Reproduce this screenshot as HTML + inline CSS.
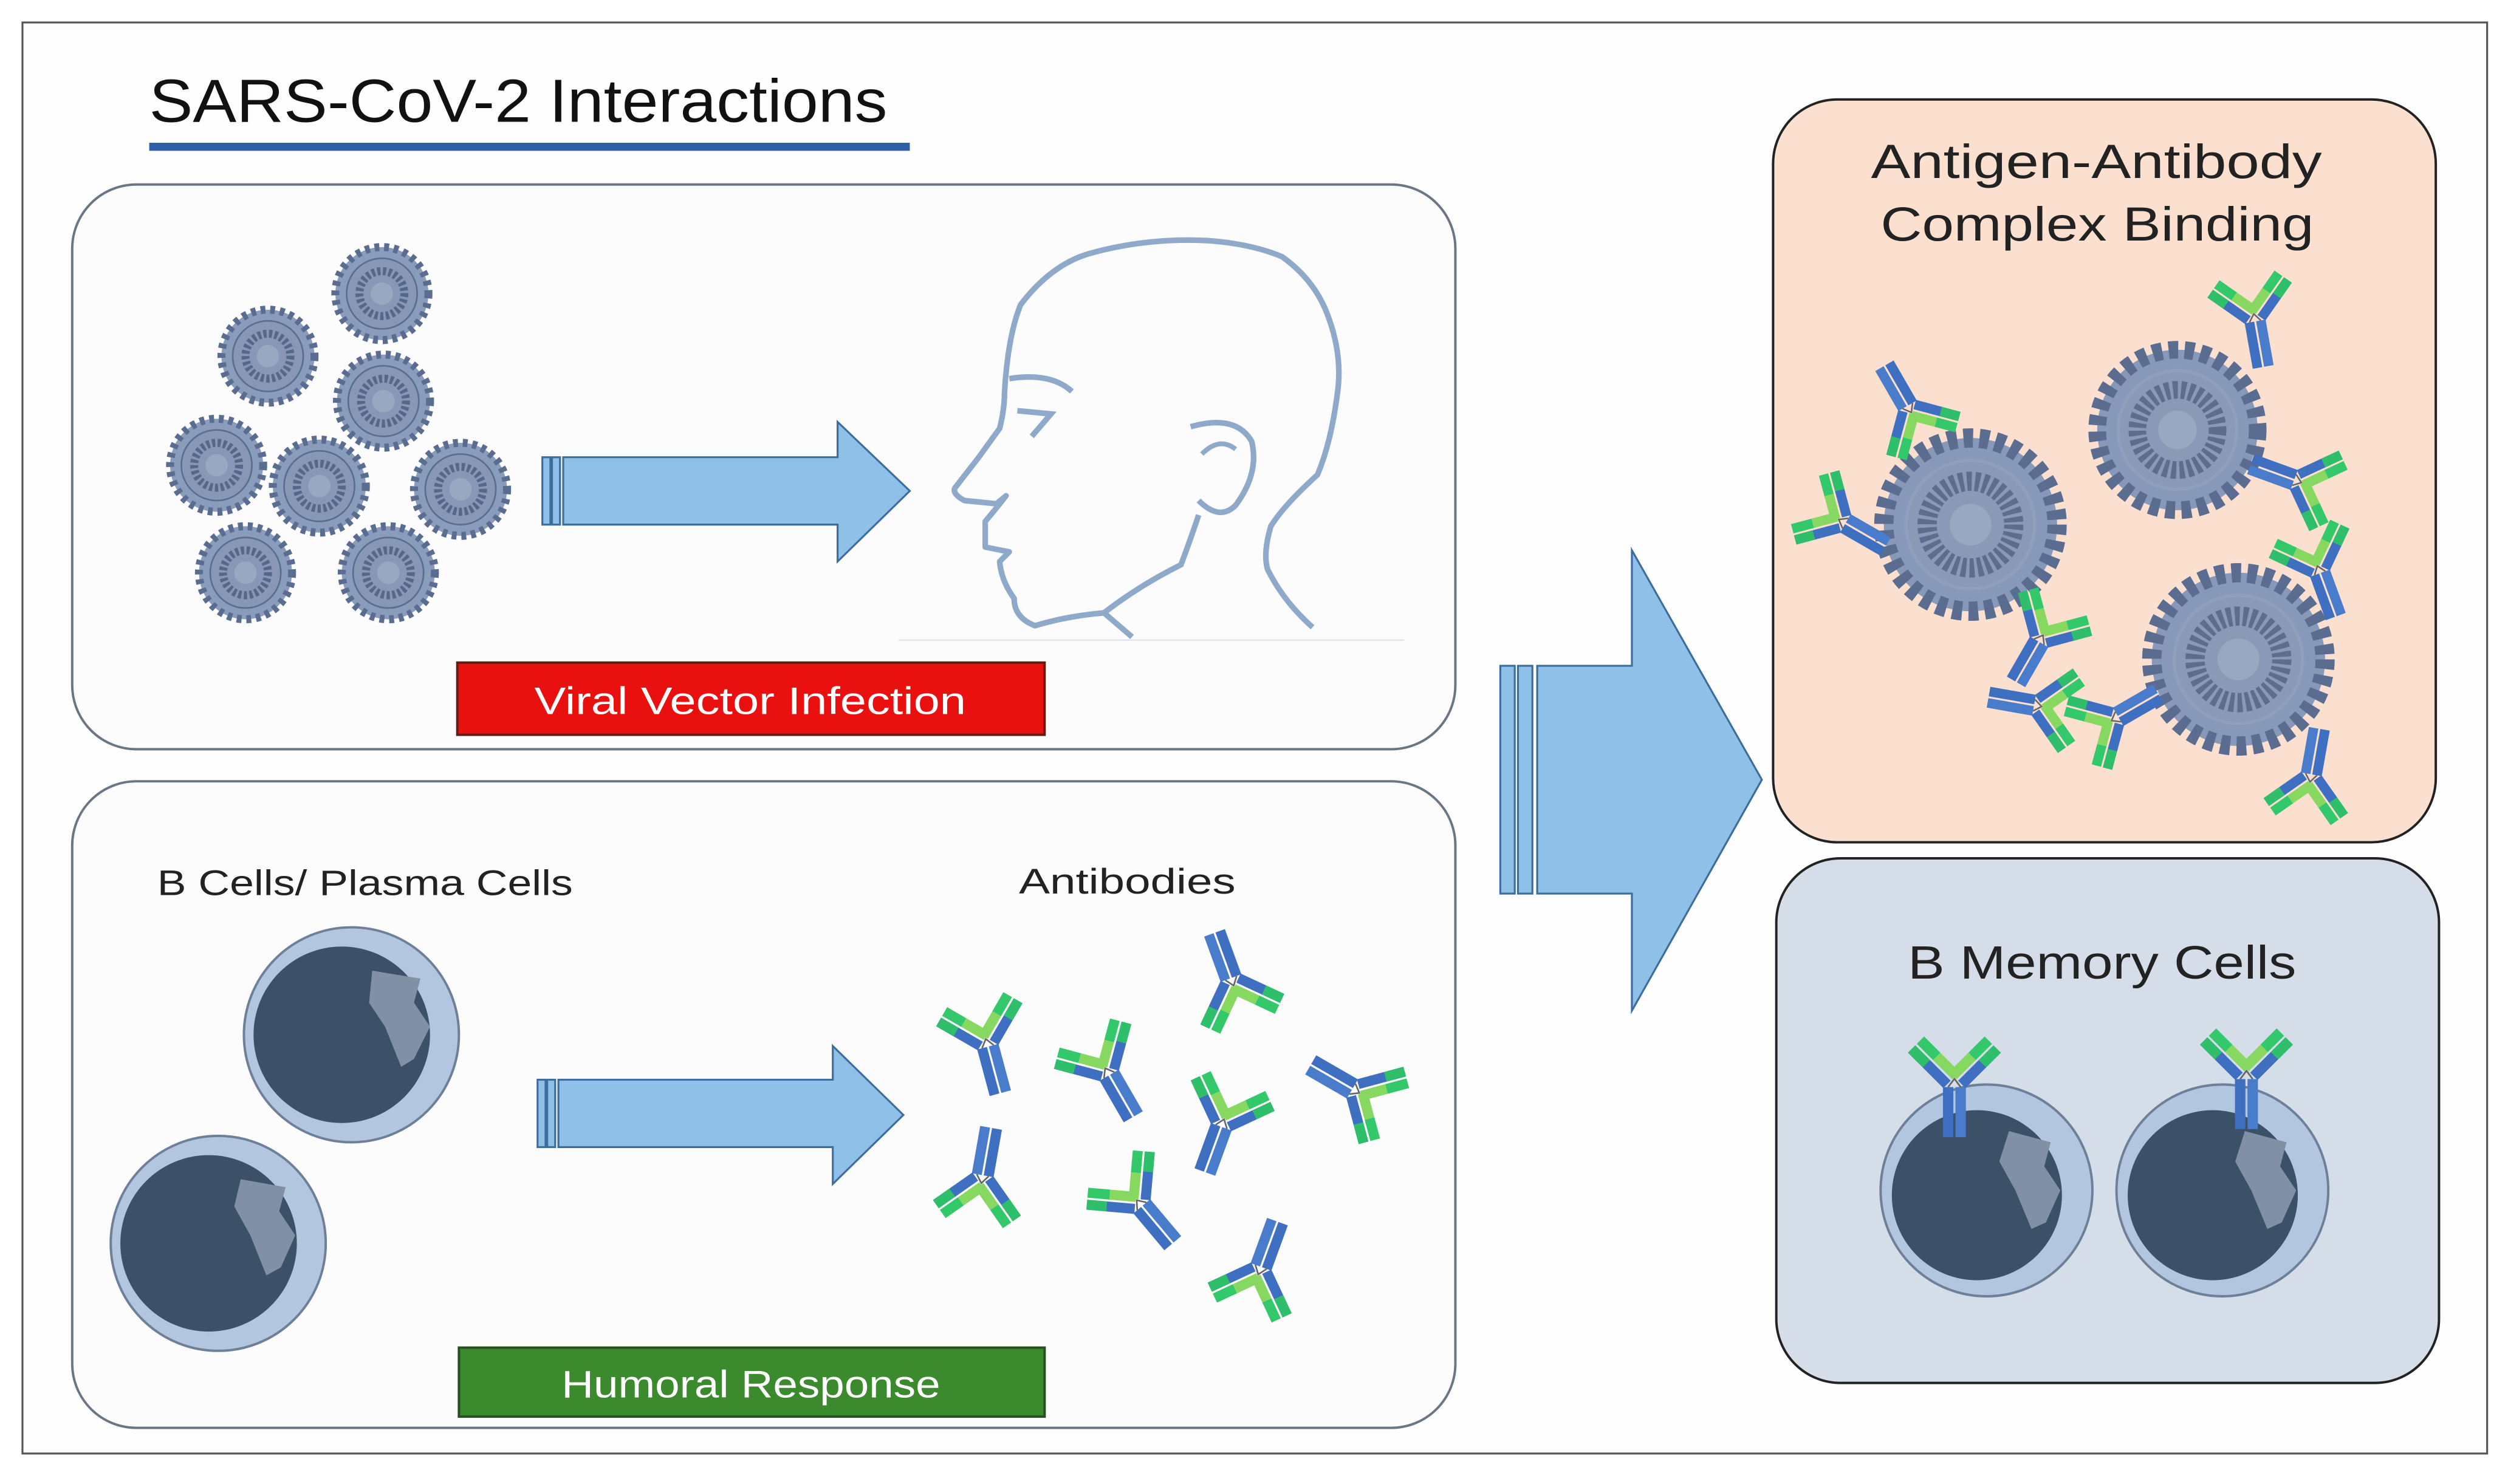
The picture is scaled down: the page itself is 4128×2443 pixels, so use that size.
<!DOCTYPE html>
<html><head><meta charset="utf-8"><style>
html,body{margin:0;padding:0;background:#fff;}
svg{display:block;}
text{font-family:"Liberation Sans",sans-serif;}
</style></head><body>
<svg width="4128" height="2443" viewBox="0 0 1563 925" preserveAspectRatio="none" xmlns="http://www.w3.org/2000/svg">
<defs>
<g id="ab">
 <rect x="-5.5" y="2" width="5" height="24" fill="#3f6fc0"/><rect x="0.5" y="2" width="5" height="24" fill="#4a7ccc"/>
 <g transform="rotate(-45)"><rect x="-5.5" y="-26" width="5" height="24" fill="#3f6fc0"/><rect x="0.5" y="-26" width="5" height="11" fill="#33c86a"/><rect x="0.5" y="-15" width="5" height="13" fill="#86d860"/><rect x="-5.5" y="-26" width="5" height="10" fill="#2fbf6a"/></g>
 <g transform="rotate(45)"><rect x="0.5" y="-26" width="5" height="24" fill="#3f6fc0"/><rect x="-5.5" y="-26" width="5" height="11" fill="#33c86a"/><rect x="-5.5" y="-15" width="5" height="13" fill="#86d860"/><rect x="0.5" y="-26" width="5" height="10" fill="#2fbf6a"/></g>
 <path d="M-3 2 L0 -2 L3 2" stroke="#666" stroke-width="0.8" fill="none"/>
</g>
</defs>
<rect width="1563" height="925" fill="#fff"/>
<rect x="14" y="14" width="1536" height="892" fill="#fefefe" stroke="#555" stroke-width="1.2"/>
<text x="93" y="76" font-size="38" fill="#111" textLength="460" lengthAdjust="spacingAndGlyphs">SARS-CoV-2 Interactions</text>
<rect x="93" y="89" width="474" height="5" fill="#2e5fa8"/>

<rect x="45" y="115" width="862" height="352" rx="40" fill="#fcfcfd" stroke="#6b7685" stroke-width="1.5"/>
<rect x="45" y="487" width="862" height="403" rx="40" fill="#fcfcfd" stroke="#6b7685" stroke-width="1.5"/>
<rect x="1105" y="62" width="413" height="463" rx="40" fill="#fbe0d0" stroke="#222" stroke-width="1.5"/>
<rect x="1107" y="535" width="413" height="327" rx="40" fill="#d4dde8" stroke="#222" stroke-width="1.5"/>

<g>
 <g transform="translate(238,183)"><circle r="29" fill="#8a9cbb" stroke="#5a6d90" stroke-width="5" stroke-dasharray="3 3"/><circle r="22" fill="#8797b5" stroke="#5a6d90" stroke-width="1"/><circle r="14" fill="none" stroke="#56688a" stroke-width="5" stroke-dasharray="2 1.5"/><circle r="7" fill="#9aa7c0"/></g>
 <g transform="translate(167,222)"><circle r="29" fill="#8a9cbb" stroke="#5a6d90" stroke-width="5" stroke-dasharray="3 3"/><circle r="22" fill="#8797b5" stroke="#5a6d90" stroke-width="1"/><circle r="14" fill="none" stroke="#56688a" stroke-width="5" stroke-dasharray="2 1.5"/><circle r="7" fill="#9aa7c0"/></g>
 <g transform="translate(239,250)"><circle r="29" fill="#8a9cbb" stroke="#5a6d90" stroke-width="5" stroke-dasharray="3 3"/><circle r="22" fill="#8797b5" stroke="#5a6d90" stroke-width="1"/><circle r="14" fill="none" stroke="#56688a" stroke-width="5" stroke-dasharray="2 1.5"/><circle r="7" fill="#9aa7c0"/></g>
 <g transform="translate(135,290)"><circle r="29" fill="#8a9cbb" stroke="#5a6d90" stroke-width="5" stroke-dasharray="3 3"/><circle r="22" fill="#8797b5" stroke="#5a6d90" stroke-width="1"/><circle r="14" fill="none" stroke="#56688a" stroke-width="5" stroke-dasharray="2 1.5"/><circle r="7" fill="#9aa7c0"/></g>
 <g transform="translate(199,303)"><circle r="29" fill="#8a9cbb" stroke="#5a6d90" stroke-width="5" stroke-dasharray="3 3"/><circle r="22" fill="#8797b5" stroke="#5a6d90" stroke-width="1"/><circle r="14" fill="none" stroke="#56688a" stroke-width="5" stroke-dasharray="2 1.5"/><circle r="7" fill="#9aa7c0"/></g>
 <g transform="translate(287,305)"><circle r="29" fill="#8a9cbb" stroke="#5a6d90" stroke-width="5" stroke-dasharray="3 3"/><circle r="22" fill="#8797b5" stroke="#5a6d90" stroke-width="1"/><circle r="14" fill="none" stroke="#56688a" stroke-width="5" stroke-dasharray="2 1.5"/><circle r="7" fill="#9aa7c0"/></g>
 <g transform="translate(153,357)"><circle r="29" fill="#8a9cbb" stroke="#5a6d90" stroke-width="5" stroke-dasharray="3 3"/><circle r="22" fill="#8797b5" stroke="#5a6d90" stroke-width="1"/><circle r="14" fill="none" stroke="#56688a" stroke-width="5" stroke-dasharray="2 1.5"/><circle r="7" fill="#9aa7c0"/></g>
 <g transform="translate(242,357)"><circle r="29" fill="#8a9cbb" stroke="#5a6d90" stroke-width="5" stroke-dasharray="3 3"/><circle r="22" fill="#8797b5" stroke="#5a6d90" stroke-width="1"/><circle r="14" fill="none" stroke="#56688a" stroke-width="5" stroke-dasharray="2 1.5"/><circle r="7" fill="#9aa7c0"/></g>
</g>

<g fill="#8fc1e8" stroke="#3c6d9c" stroke-width="1.2">
 <rect x="338" y="285" width="5" height="42"/><rect x="344" y="285" width="5" height="42"/>
 <path d="M351 285 H522 V263 L567 306 L522 350 V327 H351 Z"/>
 <rect x="335" y="673" width="5" height="42"/><rect x="341" y="673" width="5" height="42"/>
 <path d="M348 673 H519 V652 L563 695 L519 738 V715 H348 Z"/>
 <rect x="935" y="415" width="9" height="142"/><rect x="946" y="415" width="9" height="142"/>
 <path d="M958 415 H1017 V343 L1098 486 L1017 630 V557 H958 Z"/>
</g>

<path d="M705.5 397 L688 382 Q665 384 645 390 Q632 385 632 373 Q624 362 623 350 L629 344 L614 341 L614 325 Q620 318 627 309 L621 314 L601 312 Q592 307 596 303 L610 285 L623 267 Q626 255 626 245 Q628 210 636 190 Q655 165 679 158 Q715 148 753 150 Q780 152 799 160 Q820 175 828 198 Q836 220 834 241 Q830 275 821 296 Q800 315 792 328 Q787 345 790 355 Q800 375 818 391" fill="none" stroke="#8fa9cb" stroke-width="3.5" stroke-linejoin="round"/>
<path d="M688 382 Q710 365 736 352 Q742 336 747 321" fill="none" stroke="#8fa9cb" stroke-width="3.5"/>
<path d="M747 312 Q760 325 770 315 Q785 295 780 275 Q770 258 742 266" fill="none" stroke="#8fa9cb" stroke-width="3.5"/>
<path d="M749 283 Q760 272 770 280" fill="none" stroke="#8fa9cb" stroke-width="3"/>
<path d="M629 236 Q655 232 668 244" fill="none" stroke="#8fa9cb" stroke-width="3.5"/>
<path d="M634 256 L655 258 L643 272" fill="none" stroke="#8fa9cb" stroke-width="3.5"/>
<line x1="560" y1="399" x2="875" y2="399" stroke="#e2e6ec" stroke-width="1"/>

<rect x="285" y="413" width="366" height="45" fill="#e8110f" stroke="#6b1a10" stroke-width="1.5"/>
<text x="333" y="445" font-size="24" fill="#fff" textLength="269" lengthAdjust="spacingAndGlyphs">Viral Vector Infection</text>
<rect x="286" y="840" width="365" height="43" fill="#3c8a2e" stroke="#26501d" stroke-width="1.5"/>
<text x="350" y="871" font-size="24" fill="#fff" textLength="236" lengthAdjust="spacingAndGlyphs">Humoral Response</text>

<text x="98" y="558" font-size="22" fill="#222" textLength="259" lengthAdjust="spacingAndGlyphs">B Cells/ Plasma Cells</text>
<text x="635" y="557" font-size="22" fill="#222" textLength="135" lengthAdjust="spacingAndGlyphs">Antibodies</text>
<text x="1166" y="111" font-size="30" fill="#222" textLength="281" lengthAdjust="spacingAndGlyphs">Antigen-Antibody</text>
<text x="1172" y="150" font-size="30" fill="#222" textLength="270" lengthAdjust="spacingAndGlyphs">Complex Binding</text>
<text x="1189" y="610" font-size="29" fill="#222" textLength="242" lengthAdjust="spacingAndGlyphs">B Memory Cells</text>

<g>
 <circle cx="219" cy="645" r="67" fill="#b3c6e0" stroke="#6e7f98" stroke-width="1.5"/>
 <circle cx="213" cy="645" r="55" fill="#3c5068"/>
 <path d="M232 605 L262 610 L258 625 L268 640 L258 660 L250 665 L240 640 L230 625 Z" fill="#8090a5"/>
 <circle cx="136" cy="775" r="67" fill="#b3c6e0" stroke="#6e7f98" stroke-width="1.5"/>
 <circle cx="130" cy="775" r="55" fill="#3c5068"/>
 <path d="M150 735 L178 740 L174 755 L184 770 L175 790 L166 795 L156 770 L146 752 Z" fill="#8090a5"/>
</g>

<use href="#ab" transform="translate(615,650) rotate(-15) scale(1.25)"/>
<use href="#ab" transform="translate(690,668) rotate(-30) scale(1.25)"/>
<use href="#ab" transform="translate(768,612) rotate(160) scale(1.25)"/>
<use href="#ab" transform="translate(845,680) rotate(120) scale(1.25)"/>
<use href="#ab" transform="translate(762,700) rotate(20) scale(1.25)"/>
<use href="#ab" transform="translate(612,735) rotate(190) scale(1.25)"/>
<use href="#ab" transform="translate(710,750) rotate(-40) scale(1.25)"/>
<use href="#ab" transform="translate(785,792) rotate(200) scale(1.25)"/>

<g transform="translate(1228,327)"><circle r="54" fill="#8798b8" stroke="#5a6d90" stroke-width="12" stroke-dasharray="6 4"/><circle r="40" fill="#8a99b6" stroke="#8fa0bf" stroke-width="2"/><circle r="27" fill="none" stroke="#5c6d8e" stroke-width="12" stroke-dasharray="3 2"/><circle r="13" fill="#9aa7c0"/></g>
<g transform="translate(1357,268)"><circle r="50" fill="#8798b8" stroke="#5a6d90" stroke-width="11" stroke-dasharray="6 4"/><circle r="37" fill="#8a99b6" stroke="#8fa0bf" stroke-width="2"/><circle r="25" fill="none" stroke="#5c6d8e" stroke-width="11" stroke-dasharray="3 2"/><circle r="12" fill="#9aa7c0"/></g>
<g transform="translate(1395,411)"><circle r="54" fill="#8798b8" stroke="#5a6d90" stroke-width="12" stroke-dasharray="6 4"/><circle r="40" fill="#8a99b6" stroke="#8fa0bf" stroke-width="2"/><circle r="27" fill="none" stroke="#5c6d8e" stroke-width="12" stroke-dasharray="3 2"/><circle r="13" fill="#9aa7c0"/></g>

<use href="#ab" transform="translate(1190,255) rotate(150) scale(1.2)"/>
<use href="#ab" transform="translate(1405,198) rotate(-10) scale(1.2)"/>
<use href="#ab" transform="translate(1148,325) rotate(-60) scale(1.2)"/>
<use href="#ab" transform="translate(1432,300) rotate(110) scale(1.2)"/>
<use href="#ab" transform="translate(1272,398) rotate(30) scale(1.2)"/>
<use href="#ab" transform="translate(1445,355) rotate(-20) scale(1.2)"/>
<use href="#ab" transform="translate(1318,448) rotate(240) scale(1.2)"/>
<use href="#ab" transform="translate(1440,485) rotate(190) scale(1.2)"/>
<use href="#ab" transform="translate(1270,440) rotate(100) scale(1.2)"/>

<circle cx="1238" cy="742" r="66" fill="#b3c6e0" stroke="#6e7f98" stroke-width="1.5"/>
<circle cx="1232" cy="745" r="53" fill="#3c5068"/>
<path d="M1252 705 L1278 712 L1274 727 L1284 742 L1275 762 L1266 766 L1256 742 L1246 724 Z" fill="#8090a5"/>
<circle cx="1385" cy="742" r="66" fill="#b3c6e0" stroke="#6e7f98" stroke-width="1.5"/>
<circle cx="1379" cy="745" r="53" fill="#3c5068"/>
<path d="M1399 705 L1425 712 L1421 727 L1431 742 L1422 762 L1413 766 L1403 742 L1393 724 Z" fill="#8090a5"/>
<use href="#ab" transform="translate(1218,675) scale(1.3)"/>
<use href="#ab" transform="translate(1400,670) scale(1.3)"/>
</svg>
</body></html>
